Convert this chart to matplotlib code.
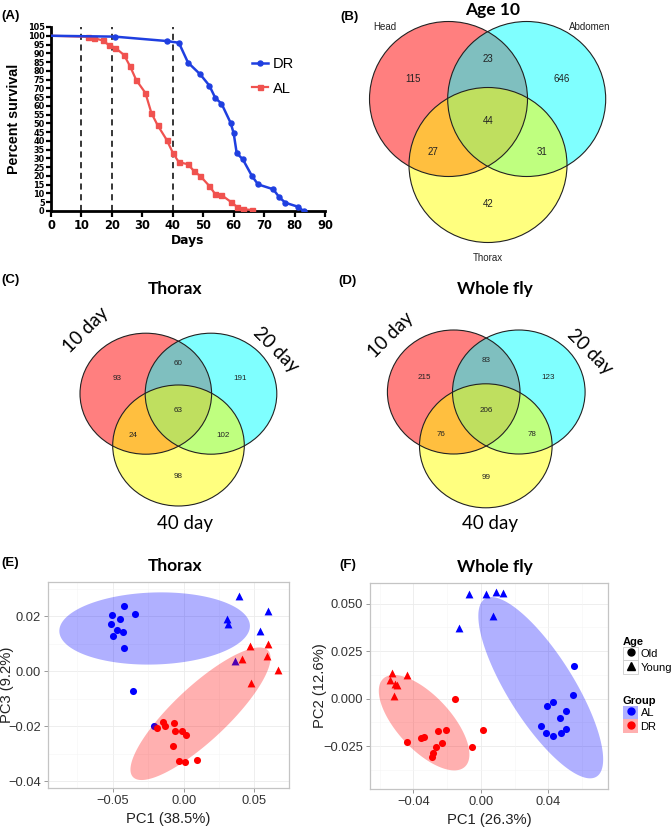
import numpy as np
import matplotlib
matplotlib.use("Agg")
import matplotlib.pyplot as plt
from matplotlib.patches import Ellipse, Rectangle
from matplotlib.lines import Line2D
from matplotlib.legend_handler import HandlerTuple

# ---------------- data ----------------
# (A) survival
dr_days = [0, 21, 38, 42, 45, 49, 52, 54, 56, 59, 60, 61, 63, 66, 68, 73, 75, 77, 81, 83]
dr_surv = [100, 99.5, 97, 96, 84.7, 78, 71.6, 64.4, 61.3, 50.3, 44.4, 33, 29.5, 20, 15.2, 12.4, 7.8, 4.7, 2.5, 0]
al_days = [0, 12, 14, 17, 19, 21, 24, 26, 28, 31, 33, 35, 38, 40, 42, 45, 47, 49, 52, 54, 56, 59, 61, 63, 66]
al_surv = [100, 99.4, 98.7, 97.3, 94.7, 93.3, 89, 82.5, 74.7, 67.4, 55.8, 49, 40.6, 33.3, 27.8, 26.7, 22.7,
           20, 14.3, 9.5, 9.1, 5.3, 2.5, 1.0, 0.6]
sample_days = [10, 20, 40]

# (B) Venn Age 10: Head only, H&A, Abdomen only, all, H&T, A&T, Thorax only
venn_b_sets = ["Head", "Abdomen", "Thorax"]
venn_b_counts = [115, 23, 646, 44, 27, 31, 42]
# (C) Thorax
venn_sets_age = ["10 day", "20 day", "40 day"]
venn_c_counts = [93, 60, 191, 63, 24, 102, 98]
# (D) Whole fly
venn_d_counts = [215, 83, 123, 206, 76, 78, 99]

# (E) PCA Thorax
e_al_old_x = [-0.0422, -0.0504, -0.0452, -0.0346, -0.0511, -0.0471, -0.0429, -0.0499, -0.0422, -0.0358, -0.0210]
e_al_old_y = [0.0236, 0.0204, 0.0192, 0.0207, 0.0171, 0.0152, 0.0143, 0.0128, 0.0086, -0.0072, -0.0200]
e_al_young_x = [0.0391, 0.0308, 0.0313, 0.0596, 0.0541, 0.0360]
e_al_young_y = [0.0273, 0.0192, 0.0171, 0.0219, 0.0147, 0.0037]
e_dr_old_x = [-0.0146, -0.0186, -0.0134, -0.0071, -0.0064, -0.0009, 0.0019, -0.0075, -0.0035, 0.0012, 0.0097]
e_dr_old_y = [-0.0184, -0.0206, -0.0200, -0.0188, -0.0215, -0.0215, -0.0232, -0.0270, -0.0327, -0.0330, -0.0324]
e_dr_young_x = [0.0471, 0.0596, 0.0412, 0.0591, 0.0669, 0.0473]
e_dr_young_y = [0.0092, 0.0098, 0.0046, 0.0057, 0.0006, -0.0042]
# ellipse: centre, two conjugate half-axis vectors (data units)
e_al_ell = [(-0.0205, 0.0156), (0.0673, 0.0009), (0.0, 0.0131)]
e_dr_ell = [(0.0119, -0.0154), (0.0477, 0.0230), (0.0131, -0.0072)]

# (F) PCA Whole fly
f_al_old_x = [0.0553, 0.0547, 0.0429, 0.0393, 0.0504, 0.0468, 0.0354, 0.0385, 0.0429, 0.0478, 0.0504]
f_al_old_y = [0.0170, 0.0017, -0.0018, -0.0039, -0.0067, -0.0102, -0.0145, -0.0179, -0.0196, -0.0179, -0.0160]
f_al_young_x = [-0.0069, 0.0028, 0.0089, 0.0132, 0.0069, -0.0129]
f_al_young_y = [0.0551, 0.0548, 0.0560, 0.0555, 0.0432, 0.0373]
f_dr_old_x = [-0.0152, 0.0014, -0.0209, -0.0253, -0.0336, -0.0356, -0.0440, -0.0052, -0.0229, -0.0267, -0.0283, -0.0292]
f_dr_old_y = [0.0000, -0.0163, -0.0163, -0.0172, -0.0202, -0.0210, -0.0231, -0.0254, -0.0236, -0.0257, -0.0289, -0.0306]
f_dr_young_x = [-0.0529, -0.0539, -0.0510, -0.0500, -0.0440, -0.0516]
f_dr_young_y = [0.0134, 0.0096, 0.0079, 0.0070, 0.0122, 0.0012]
f_al_ell = [(0.0355, 0.0057), (0.0331, -0.0468), (0.0166, 0.0092)]
f_dr_ell = [(-0.0337, -0.0127), (0.0242, -0.0232), (0.0117, 0.0096)]

# ---------------- figure ----------------
W, H = 672, 827
fig = plt.figure(figsize=(W / 100, H / 100), dpi=100)
fig.patch.set_facecolor("white")

def pbox(x0, y0, x1, y1):
    return [x0 / W, 1 - y1 / H, (x1 - x0) / W, (y1 - y0) / H]

def ftext(x, y, s, **kw):
    fig.text(x / W, 1 - y / H, s, **kw)

ARIAL = "Liberation Sans"
CAL = "Lato"

# panel letters
for lab, x, y in [("(A)", 1, 16), ("(B)", 340, 17), ("(C)", 1, 280), ("(D)", 338, 281),
                  ("(E)", 1, 563), ("(F)", 339, 565)]:
    ftext(x, y, lab, family=ARIAL, fontweight="bold", fontsize=9.5, va="center", ha="left")

# ---------------- (A) survival ----------------
axA = fig.add_axes(pbox(51, 27, 325, 211))
DRc, ALc = "#1f3fe0", "#f0524f"
axA.plot(al_days, al_surv, color=ALc, lw=1.6, marker="s", ms=3.6, markevery=slice(1, None), label="AL", zorder=3)
axA.plot(dr_days, dr_surv, color=DRc, lw=1.8, marker="o", ms=3.6, markevery=slice(1, None), label="DR", zorder=4)
for d in sample_days:
    axA.axvline(d, color="black", lw=1.1, ls=(0, (4, 3)), zorder=2)
axA.set_xlim(0, 90)
axA.set_ylim(0, 105)
axA.set_xticks(np.arange(0, 91, 10))
axA.set_yticks(np.arange(0, 106, 5))
for s in ["top", "right"]:
    axA.spines[s].set_visible(False)
for s in ["left", "bottom"]:
    axA.spines[s].set_linewidth(2)
axA.tick_params(axis="both", direction="out", width=1.6, length=4, pad=1.5)
axA.tick_params(axis="y", length=3.5, pad=1)
for t in axA.get_xticklabels():
    t.set_fontfamily("DejaVu Sans"); t.set_fontweight("bold"); t.set_fontsize(8.3)
for t in axA.get_yticklabels():
    t.set_fontfamily("DejaVu Sans"); t.set_fontweight("bold"); t.set_fontsize(5.9)
axA.set_xlabel("Days", family="DejaVu Sans", fontweight="bold", fontsize=8.8)
axA.set_ylabel("Percent survival", family=ARIAL, fontweight="bold", fontsize=10.3)
axA.xaxis.set_label_coords(0.5, -0.125)
axA.yaxis.set_label_coords(-0.108, 0.5)
h, l = axA.get_legend_handles_labels()
axA.legend(h[::-1], l[::-1], loc="upper left", bbox_to_anchor=(0.69, 0.90), frameon=False,
           prop={"family": ARIAL, "size": 10.5}, handlelength=1.15, handletextpad=0.3,
           labelspacing=0.72, borderpad=0.3)

# ---------------- Venn helper ----------------
venn_cols = ["red", "cyan", "yellow"]

def venn(region, centres, rx, ry, counts, num_pos, num_size):
    ax = fig.add_axes(pbox(*region))
    ax.set_xlim(region[0], region[2])
    ax.set_ylim(region[3], region[1])
    ax.axis("off")
    for (cx, cy), c in zip(centres, venn_cols):
        ax.add_patch(Ellipse((cx, cy), 2 * rx, 2 * ry, facecolor=c, alpha=0.5, edgecolor="none"))
    for (cx, cy) in centres:
        ax.add_patch(Ellipse((cx, cy), 2 * rx, 2 * ry, facecolor="none", edgecolor="#222222", lw=0.8))
    for n, (x, y) in zip(counts, num_pos):
        ax.text(x, y, str(n), family=ARIAL, fontsize=num_size, ha="center", va="center", color="#222222")
    return ax

# (B)
axB = venn((330, 0, 672, 280), [(448.5, 99), (526.7, 99), (488, 165)], 79, 77.5, venn_b_counts,
           [(413, 79), (488, 59), (562, 79), (488, 121), (433, 152), (542, 152), (488, 204)], 7)
ftext(493, 10, "Age 10", family=CAL, fontweight="bold", fontsize=12.5, ha="center", va="center")
for s, (x, y) in zip(venn_b_sets, [(385, 27), (590, 27), (488, 258)]):
    ftext(x, y, s, family=ARIAL, fontsize=7, ha="center", va="center", color="#222222")

# (C)
venn((40, 300, 330, 540), [(145.8, 393.7), (211, 393.7), (178.5, 445.5)], 65.8, 60.5, venn_c_counts,
     [(116.7, 379), (178.3, 363.3), (240, 379), (178.3, 411), (132.7, 435.3), (223.3, 435.3), (178.3, 476.7)], 5.8)
ftext(175, 289, "Thorax", family=CAL, fontweight="bold", fontsize=12.5, ha="center", va="center")
ftext(86, 330, venn_sets_age[0], family=CAL, fontsize=13.5, rotation=45, ha="center", va="center", rotation_mode="anchor")
ftext(276, 350, venn_sets_age[1], family=CAL, fontsize=13.5, rotation=-45, ha="center", va="center", rotation_mode="anchor")
ftext(185, 524, venn_sets_age[2], family=CAL, fontsize=13.5, ha="center", va="center")

# (D)
venn((360, 300, 640, 540), [(453.7, 392), (518.8, 392), (485.8, 445.8)], 66.3, 62, venn_d_counts,
     [(424.3, 377.3), (486, 360.7), (548.3, 377.3), (486, 410), (441, 435), (531.7, 435), (486, 477.7)], 5.8)
ftext(495, 289, "Whole fly", family=CAL, fontweight="bold", fontsize=12.5, ha="center", va="center")
ftext(391, 335, venn_sets_age[0], family=CAL, fontsize=13.5, rotation=45, ha="center", va="center", rotation_mode="anchor")
ftext(590, 352, venn_sets_age[1], family=CAL, fontsize=13.5, rotation=-45, ha="center", va="center", rotation_mode="anchor")
ftext(490, 524, venn_sets_age[2], family=CAL, fontsize=13.5, ha="center", va="center")

# ---------------- PCA helper ----------------
BLUE, RED = "#0000ff", "#ff0000"

def ell_xy(e):
    (cx, cy), v1, v2 = e
    t = np.linspace(0, 2 * np.pi, 200)
    return cx + np.cos(t) * v1[0] + np.sin(t) * v2[0], cy + np.cos(t) * v1[1] + np.sin(t) * v2[1]

def pca(box, xlim, ylim, xt, xtl, yt, ytl, xminor, yminor, pts, ells, xlabel, ylabel, ylab_x, title, tx):
    ax = fig.add_axes(pbox(*box))
    ax.set_xlim(*xlim); ax.set_ylim(*ylim)
    for v in xt:
        ax.axvline(v, color="#ebebeb", lw=0.6, zorder=0)
    for v in yt:
        ax.axhline(v, color="#ebebeb", lw=0.6, zorder=0)
    for v in xminor:
        ax.axvline(v, color="#f5f5f5", lw=0.4, zorder=0)
    for v in yminor:
        ax.axhline(v, color="#f5f5f5", lw=0.4, zorder=0)
    for x, y, m, c in pts:
        ax.scatter(x, y, marker=m, s=26 if m == "o" else 32, color=c, linewidths=0, zorder=2)
    for e, c in ells:
        ex, ey = ell_xy(e)
        ax.fill(ex, ey, color=c, alpha=0.31, lw=0, zorder=3)
    ax.set_xticks(xt); ax.set_xticklabels(xtl)
    ax.set_yticks(yt); ax.set_yticklabels(ytl)
    ax.tick_params(length=3, width=0.6, color="#8a8a8a", labelsize=9.3, labelcolor="#333333", pad=2)
    for t in ax.get_xticklabels() + ax.get_yticklabels():
        t.set_fontfamily(ARIAL)
    for s in ax.spines.values():
        s.set_color("#c4c4c4"); s.set_linewidth(0.9)
    ax.set_xlabel(xlabel, family=ARIAL, fontsize=10.6, color="#222222")
    ax.set_ylabel(ylabel, family=ARIAL, fontsize=10.6, color="#222222")
    ax.xaxis.set_label_coords(0.5, -0.115)
    ax.yaxis.set_label_coords(ylab_x, 0.5)
    ftext(tx, box[1] - 16, title, family=CAL, fontweight="bold", fontsize=12.5, ha="center", va="center")
    return ax

M = "\u2212"
axE = pca((48, 582, 289, 788), (-0.0958, 0.0744), (-0.0424, 0.0325),
          [-0.05, 0.0, 0.05], [M + "0.05", "0.00", "0.05"],
          [-0.04, -0.02, 0.0, 0.02], [M + "0.04", M + "0.02", "0.00", "0.02"],
          [-0.075, -0.025, 0.025], [-0.03, -0.01, 0.01, 0.03],
          [(e_al_old_x, e_al_old_y, "o", BLUE), (e_al_young_x, e_al_young_y, "^", BLUE),
           (e_dr_old_x, e_dr_old_y, "o", RED), (e_dr_young_x, e_dr_young_y, "^", RED)],
          [(e_al_ell, BLUE), (e_dr_ell, RED)],
          "PC1 (38.5%)", "PC3 (9.2%)", -0.14, "Thorax", 175)

axF = pca((370, 583, 608, 789), (-0.0658, 0.0754), (-0.0476, 0.0608),
          [-0.04, 0.0, 0.04], [M + "0.04", "0.00", "0.04"],
          [-0.025, 0.0, 0.025, 0.05], [M + "0.025", "0.000", "0.025", "0.050"],
          [-0.06, -0.02, 0.02, 0.06], [-0.0375, -0.0125, 0.0125, 0.0375],
          [(f_al_old_x, f_al_old_y, "o", BLUE), (f_al_young_x, f_al_young_y, "^", BLUE),
           (f_dr_old_x, f_dr_old_y, "o", RED), (f_dr_young_x, f_dr_young_y, "^", RED)],
          [(f_al_ell, BLUE), (f_dr_ell, RED)],
          "PC1 (26.3%)", "PC2 (12.6%)", -0.18, "Whole fly", 495)

# legends for PCA
LFS = 8.0
box_w = Rectangle((0, 0), 1, 1, facecolor="white", edgecolor="#cccccc", lw=0.6)
age_h = [(box_w, Line2D([], [], marker="o", color="black", ls="", ms=5)),
         (box_w, Line2D([], [], marker="^", color="black", ls="", ms=5.5))]
common = dict(loc="upper left", frameon=False, alignment="left",
              handler_map={tuple: HandlerTuple(ndivide=1, pad=0)},
              prop={"family": ARIAL, "size": LFS},
              title_fontproperties={"family": ARIAL, "weight": "bold", "size": LFS},
              handlelength=1.4, handleheight=1.5, handletextpad=0.2, labelspacing=0.0, borderpad=0.2)
fig.legend(age_h, ["Old", "Young"], title="Age", bbox_to_anchor=(615 / W, 1 - 629 / H), **common)
grp_h = [(Rectangle((0, 0), 1, 1, facecolor=BLUE, alpha=0.31, lw=0), Line2D([], [], marker="o", color=BLUE, ls="", ms=5)),
         (Rectangle((0, 0), 1, 1, facecolor=RED, alpha=0.31, lw=0), Line2D([], [], marker="o", color=RED, ls="", ms=5))]
fig.legend(grp_h, ["AL", "DR"], title="Group", bbox_to_anchor=(615 / W, 1 - 688 / H), **common)

fig.savefig("out.png", dpi=100, facecolor="white")
